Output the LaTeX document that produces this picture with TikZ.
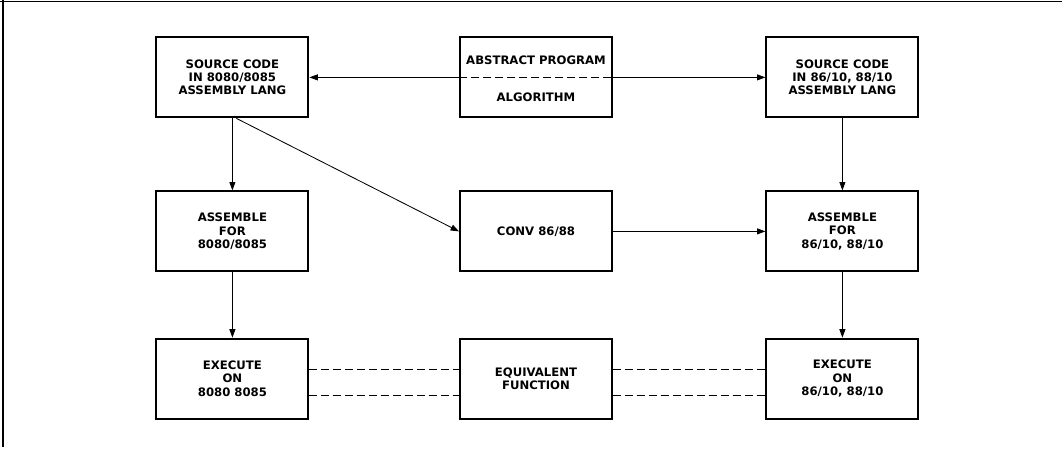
\documentclass[tikz,border=0pt]{standalone}
\usepackage{fontspec}
\setmainfont{DejaVu Sans}
\usetikzlibrary{arrows.meta, positioning}

\begin{document}
\begin{tikzpicture}[
  x=1cm,y=1cm,
  box/.style={draw, line width=1.4pt, minimum width=3.8cm, minimum height=2.0cm, align=center, inner sep=0pt,
    font=\fontsize{8.3}{9.4}\selectfont\bfseries},
  flow/.style={-{Triangle[length=2.1mm, width=1.5mm]}, line width=0.6pt},
  equiv/.style={dash pattern=on 0.2cm off 0.1cm, line width=0.6pt}
]
\useasboundingbox (0,0) rectangle (26.55,11.325);

% frame edges
\draw[line width=1.2pt] (0,11.29) -- (26.55,11.29);
\draw[line width=1pt] (0.08,11.325) -- (0.08,0.15);

% top row
\node[box] (srcl) at (5.81,9.39) {SOURCE CODE\\IN 8080/8085\\ASSEMBLY LANG};
\node[box] (abs) at (13.4,9.39) {};
\draw[equiv] (abs.west) -- (abs.east);
\node[font=\fontsize{8.3}{9.4}\selectfont\bfseries] (absup) at (13.4,9.83) {ABSTRACT PROGRAM};
\node[font=\fontsize{8.3}{9.4}\selectfont\bfseries] (abslo) at (13.4,8.89) {ALGORITHM};
\node[box] (srcr) at (21.06,9.39) {SOURCE CODE\\IN 86/10, 88/10\\ASSEMBLY LANG};
\draw[flow] (abs.west) -- (srcl.east);
\draw[flow] (abs.east) -- (srcr.west);

% middle row
\node[box] (asml) at (5.81,5.54) {ASSEMBLE\\FOR\\8080/8085};
\node[box] (conv) at (13.4,5.54) {CONV 86/88};
\node[box] (asmr) at (21.06,5.54) {ASSEMBLE\\FOR\\86/10, 88/10};
\draw[flow] (srcl.south) -- (asml.north);
\draw[flow] ([xshift=1mm]srcl.south) -- (conv.west);
\draw[flow] (conv.east) -- (asmr.west);
\draw[flow] (srcr.south) -- (asmr.north);

% bottom row
\node[box] (exel) at (5.81,1.86) {EXECUTE\\ON\\8080 8085};
\node[box] (same) at (13.4,1.86) {EQUIVALENT\\FUNCTION};
\node[box] (exer) at (21.06,1.86) {EXECUTE\\ON\\86/10, 88/10};
\draw[flow] (asml.south) -- (exel.north);
\draw[flow] (asmr.south) -- (exer.north);
\draw[equiv] ([yshift=0.24cm]exel.east) -- ([yshift=0.24cm]same.west);
\draw[equiv] ([yshift=-0.41cm]exel.east) -- ([yshift=-0.41cm]same.west);
\draw[equiv] ([yshift=0.24cm]same.east) -- ([yshift=0.24cm]exer.west);
\draw[equiv] ([yshift=-0.41cm]same.east) -- ([yshift=-0.41cm]exer.west);

\end{tikzpicture}
\end{document}
